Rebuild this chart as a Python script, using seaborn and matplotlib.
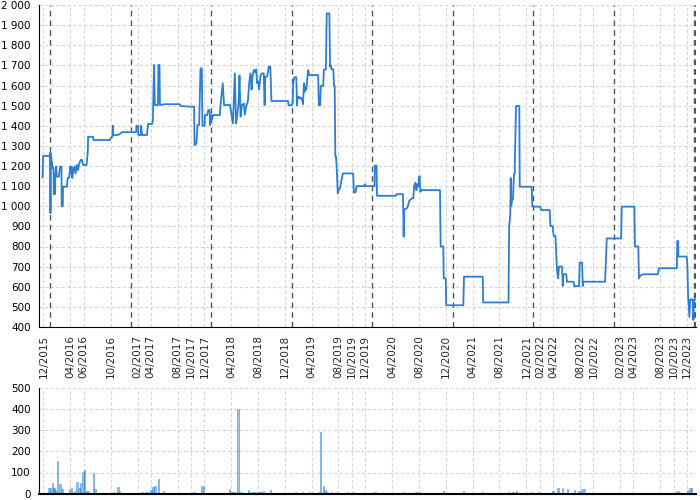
import pandas as pd
import numpy as np
import matplotlib
matplotlib.use("Agg")
import matplotlib.pyplot as plt
from matplotlib.ticker import FuncFormatter
import seaborn as sns

# price series
price_dates = [
    "2015-11-27", "2015-11-30", "2015-12-31", "2016-01-01", "2016-01-02", "2016-01-03",
    "2016-01-12", "2016-01-16", "2016-01-17", "2016-01-23", "2016-01-24", "2016-01-28",
    "2016-01-31", "2016-02-09", "2016-02-15", "2016-02-21", "2016-02-22", "2016-02-27",
    "2016-02-28", "2016-03-17", "2016-03-20", "2016-03-26", "2016-03-29", "2016-04-01",
    "2016-04-04", "2016-04-07", "2016-04-10", "2016-04-13", "2016-04-16", "2016-04-21",
    "2016-04-25", "2016-05-01", "2016-05-06", "2016-05-12", "2016-05-18", "2016-05-24",
    "2016-05-29", "2016-06-14", "2016-06-20", "2016-06-21", "2016-07-14", "2016-07-15",
    "2016-09-28", "2016-10-02", "2016-10-09", "2016-10-11", "2016-10-13", "2016-11-02",
    "2016-11-12", "2016-11-21", "2017-01-25", "2017-01-26", "2017-02-03", "2017-02-04",
    "2017-02-15", "2017-02-16", "2017-02-21", "2017-03-15", "2017-03-20", "2017-04-07",
    "2017-04-11", "2017-04-16", "2017-04-20", "2017-05-04", "2017-05-06", "2017-05-11",
    "2017-05-13", "2017-06-04", "2017-08-11", "2017-08-16", "2017-09-26", "2017-10-15",
    "2017-10-17", "2017-10-25", "2017-10-31", "2017-11-07", "2017-11-13", "2017-11-19",
    "2017-11-22", "2017-12-02", "2017-12-03", "2017-12-13", "2017-12-18", "2017-12-24",
    "2017-12-27", "2017-12-30", "2018-01-04", "2018-01-09", "2018-02-09", "2018-02-12",
    "2018-02-22", "2018-02-28", "2018-03-27", "2018-04-09", "2018-04-18", "2018-04-23",
    "2018-04-28", "2018-05-05", "2018-05-09", "2018-05-14", "2018-05-20", "2018-05-29",
    "2018-06-02", "2018-06-09", "2018-06-16", "2018-06-22", "2018-06-28", "2018-07-03",
    "2018-07-07", "2018-07-13", "2018-07-20", "2018-07-24", "2018-07-28", "2018-08-02",
    "2018-08-06", "2018-08-12", "2018-08-18", "2018-08-27", "2018-08-31", "2018-09-03",
    "2018-09-12", "2018-09-19", "2018-09-26", "2018-10-01", "2018-12-15", "2018-12-18",
    "2019-01-01", "2019-01-05", "2019-01-08", "2019-01-13", "2019-01-22", "2019-01-25",
    "2019-01-28", "2019-02-02", "2019-02-06", "2019-02-11", "2019-02-17", "2019-02-21",
    "2019-02-26", "2019-03-02", "2019-03-05", "2019-03-08", "2019-03-17", "2019-03-21",
    "2019-05-01", "2019-05-04", "2019-05-10", "2019-05-13", "2019-05-24", "2019-05-27",
    "2019-06-05", "2019-06-09", "2019-06-21", "2019-06-24", "2019-06-27", "2019-07-01",
    "2019-07-09", "2019-07-12", "2019-07-15", "2019-07-18", "2019-07-21", "2019-07-24",
    "2019-07-29", "2019-08-02", "2019-08-08", "2019-08-21", "2019-10-07", "2019-10-10",
    "2019-10-18", "2019-10-22", "2019-11-26", "2019-11-29", "2019-12-02", "2020-01-12",
    "2020-01-13", "2020-01-21", "2020-01-23", "2020-04-18", "2020-04-21", "2020-05-20",
    "2020-05-23", "2020-05-26", "2020-06-07", "2020-06-11", "2020-06-18", "2020-07-01",
    "2020-07-06", "2020-07-09", "2020-07-15", "2020-07-20", "2020-07-23", "2020-07-28",
    "2020-07-30", "2020-08-03", "2020-08-07", "2020-08-12", "2020-11-04", "2020-11-07",
    "2020-11-19", "2020-11-21", "2020-11-30", "2020-12-02", "2021-02-18", "2021-02-21",
    "2021-05-17", "2021-05-19", "2021-09-11", "2021-09-14", "2021-09-19", "2021-09-21",
    "2021-09-23", "2021-09-28", "2021-10-01", "2021-10-06", "2021-10-09", "2021-10-15",
    "2021-10-30", "2021-11-01", "2021-12-25", "2021-12-28", "2022-02-02", "2022-02-06",
    "2022-03-17", "2022-03-20", "2022-03-30", "2022-04-04", "2022-04-12", "2022-04-19",
    "2022-04-24", "2022-04-28", "2022-05-12", "2022-05-15", "2022-05-18", "2022-05-31",
    "2022-06-03", "2022-07-03", "2022-07-06", "2022-07-28", "2022-07-31", "2022-08-11",
    "2022-08-14", "2022-08-17", "2022-11-23", "2022-11-26", "2022-12-01", "2023-02-04",
    "2023-02-07", "2023-04-05", "2023-04-08", "2023-04-23", "2023-04-26", "2023-05-02",
    "2023-05-14", "2023-07-21", "2023-07-26", "2023-10-15", "2023-10-17", "2023-10-21",
    "2023-10-22", "2023-11-29", "2023-12-02", "2023-12-05", "2023-12-11", "2023-12-15",
    "2023-12-26", "2023-12-29", "2024-01-02", "2024-01-07",
]
price_values = [
    1142, 1250, 1250, 1265, 966, 1265,
    1188, 1188, 1060, 1060, 1147, 1197,
    1147, 1147, 1197, 1197, 1000, 1000,
    1097, 1097, 1140, 1140, 1163, 1197,
    1163, 1197, 1140, 1163, 1180, 1197,
    1163, 1205, 1180, 1213, 1230, 1230,
    1205, 1205, 1280, 1345, 1345, 1329,
    1329, 1340, 1345, 1400, 1354, 1354,
    1360, 1368, 1368, 1399, 1399, 1354,
    1354, 1400, 1354, 1354, 1409, 1409,
    1425, 1702, 1503, 1503, 1702, 1702,
    1503, 1507, 1507, 1498, 1495, 1495,
    1304, 1310, 1404, 1404, 1685, 1685,
    1400, 1400, 1453, 1453, 1478, 1478,
    1404, 1453, 1430, 1453, 1453, 1503,
    1611, 1503, 1503, 1412, 1660, 1412,
    1445, 1515, 1650, 1445, 1503, 1510,
    1455, 1500, 1520, 1611, 1660, 1580,
    1645, 1677, 1665, 1680, 1611, 1620,
    1580, 1645, 1660, 1660, 1503, 1645,
    1645, 1694, 1694, 1523, 1523, 1502,
    1502, 1510, 1614, 1641, 1641, 1502,
    1544, 1544, 1535, 1540, 1530, 1507,
    1611, 1570, 1590, 1580, 1677, 1652,
    1652, 1502, 1502, 1598, 1598, 1680,
    1680, 1958, 1958, 1694, 1700, 1680,
    1680, 1598, 1598, 1247, 1247, 1197,
    1064, 1080, 1090, 1163, 1163, 1069,
    1069, 1100, 1100, 1110, 1100, 1100,
    1202, 1202, 1052, 1052, 1060, 1060,
    849, 985, 990, 1000, 1028, 1040,
    1040, 1097, 1117, 1080, 1110, 1097,
    1110, 1150, 1072, 1080, 1080, 800,
    800, 642, 642, 508, 508, 650,
    650, 522, 522, 898, 957, 1140,
    1000, 1035, 1035, 1160, 1160, 1498,
    1498, 1097, 1097, 998, 998, 981,
    981, 902, 902, 852, 852, 683,
    642, 700, 700, 604, 662, 662,
    625, 625, 603, 603, 720, 720,
    603, 625, 625, 700, 840, 840,
    998, 998, 800, 800, 642, 655,
    662, 662, 692, 692, 827, 827,
    750, 750, 700, 558, 450, 537,
    537, 435, 537, 537,
]

# traded volume
volume_dates = [
    "2015-12-26", "2016-01-02", "2016-01-11", "2016-01-16", "2016-01-21", "2016-01-26",
    "2016-02-02", "2016-02-14", "2016-02-23", "2016-03-28", "2016-04-08", "2016-04-20",
    "2016-05-01", "2016-05-10", "2016-05-17", "2016-05-29", "2016-06-04", "2016-06-13",
    "2016-06-20", "2016-07-15", "2016-07-22", "2016-10-15", "2016-11-04", "2016-11-11",
    "2017-02-04", "2017-02-11", "2017-02-20", "2017-03-10", "2017-03-18", "2017-04-03",
    "2017-04-12", "2017-04-21", "2017-05-05", "2017-05-12", "2017-05-28", "2017-08-20",
    "2017-10-14", "2017-10-19", "2017-11-19", "2017-11-28", "2018-02-10", "2018-03-25",
    "2018-04-05", "2018-04-14", "2018-05-02", "2018-05-16", "2018-06-19", "2018-06-23",
    "2018-07-09", "2018-07-18", "2018-08-05", "2018-08-14", "2018-08-27", "2018-09-15",
    "2018-09-26", "2018-12-05", "2019-01-19", "2019-02-03", "2019-02-19", "2019-02-28",
    "2019-03-23", "2019-04-01", "2019-05-02", "2019-05-13", "2019-05-25", "2019-06-01",
    "2019-06-10", "2019-06-30", "2019-07-27", "2019-08-03", "2019-09-10", "2019-10-07",
    "2019-10-21", "2019-12-03", "2020-01-14", "2020-05-22", "2020-07-18", "2020-08-03",
    "2020-11-20", "2020-12-01", "2021-02-19", "2021-05-16", "2021-09-12", "2021-09-21",
    "2021-10-02", "2021-10-18", "2021-11-07", "2021-12-24", "2022-01-24", "2022-02-28",
    "2022-03-18", "2022-04-01", "2022-04-10", "2022-04-23", "2022-05-02", "2022-05-13",
    "2022-05-22", "2022-06-06", "2022-06-18", "2022-07-08", "2022-07-28", "2022-08-08",
    "2022-08-19", "2022-11-24", "2023-02-05", "2023-05-02", "2023-07-20", "2023-10-14",
    "2023-10-23", "2023-12-03", "2023-12-14", "2023-12-21",
]
volume_values = [
    25, 25, 52, 28, 25, 17,
    156, 44, 24, 20, 25, 14,
    57, 28, 49, 102, 111, 13,
    13, 99, 24, 8, 30, 11,
    3, 3, 8, 8, 8, 17,
    30, 35, 69, 5, 14, 2,
    8, 3, 36, 36, 2, 24,
    8, 8, 401, 8, 16, 8,
    9, 9, 8, 8, 13, 5,
    19, 5, 6, 3, 8, 3,
    8, 5, 8, 289, 36, 17,
    6, 8, 8, 3, 9, 8,
    3, 3, 6, 8, 6, 9,
    13, 5, 14, 8, 8, 5,
    6, 11, 5, 8, 6, 5,
    5, 11, 5, 27, 5, 28,
    5, 20, 3, 17, 14, 20,
    20, 3, 2, 3, 3, 11,
    11, 16, 25, 25,
]

tick_labels = [
    "12/2015", "04/2016", "06/2016", "10/2016", "02/2017", "04/2017", "08/2017",
    "10/2017", "12/2017", "04/2018", "08/2018", "12/2018", "04/2019", "08/2019",
    "10/2019", "12/2019", "04/2020", "08/2020", "12/2020", "04/2021", "08/2021",
    "12/2021", "02/2022", "04/2022", "08/2022", "10/2022", "02/2023", "04/2023",
    "08/2023", "10/2023", "12/2023",
]
year_marks = ["2016-01-01", "2017-01-01", "2018-01-01", "2019-01-01", "2020-01-01",
              "2021-01-01", "2022-01-01", "2023-01-01", "2024-01-01"]

price = pd.DataFrame({"date": pd.to_datetime(price_dates), "price": price_values})
volume = pd.DataFrame({"date": pd.to_datetime(volume_dates), "volume": volume_values})
ticks = pd.to_datetime(tick_labels, format="%m/%Y")
marks = pd.to_datetime(year_marks)

sns.set_style("white")
plt.rcParams["font.family"] = ["DejaVu Sans"]
plt.rcParams["font.size"] = 7

blue = "#2a7fd4"
grid_kw = dict(color="#d6d6d6", linestyle=(0, (3, 2)), linewidth=0.8)
thousands = FuncFormatter(lambda v, p: f"{v:,.0f}".replace(",", " "))
xlim = (pd.Timestamp("2015-11-11"), pd.Timestamp("2024-01-10"))

fig = plt.figure(figsize=(7, 5), dpi=100)
ax = fig.add_axes([0.0557, 0.346, 0.9386, 0.644])
ax2 = fig.add_axes([0.0557, 0.0126, 0.9386, 0.212])

# price panel
sns.lineplot(data=price, x="date", y="price", ax=ax, color=blue, linewidth=1.3,
             estimator=None, sort=False)
for d in marks:
    ax.axvline(d, color="#555555", linestyle=(0, (4, 3)), linewidth=1, zorder=1)
ax.axvline(price["date"].iloc[-1], color="#555555", linestyle=(0, (4, 3)), linewidth=1, zorder=1)
ax.set_ylim(400, 2000)
ax.set_yticks(np.arange(400, 2001, 100))
ax.yaxis.set_major_formatter(thousands)
ax.set_xlim(*xlim)
ax.set_xticks(ticks)
ax.set_xticklabels(tick_labels, rotation=90)
ax.grid(True, **grid_kw)
ax.set_axisbelow(True)
ax.set_xlabel("")
ax.set_ylabel("")

# volume panel
ax2.bar(volume["date"], volume["volume"], width=6, color=blue, alpha=0.5,
        edgecolor=blue, linewidth=0.6)
ax2.set_ylim(0, 500)
ax2.set_yticks(np.arange(0, 501, 100))
ax2.set_xlim(*xlim)
ax2.set_xticks(ticks)
ax2.tick_params(axis="x", length=0, labelbottom=False)
ax2.grid(True, **grid_kw)
ax2.set_axisbelow(True)

for a in (ax, ax2):
    sns.despine(ax=a)
    a.spines["left"].set_color("black")
    a.spines["bottom"].set_color("black")
    a.tick_params(axis="y", length=4, width=0.8, pad=2, colors="black", labelsize=7.5)
ax.tick_params(axis="x", length=4, width=0.8, pad=2, labelsize=7.5)
ax2.spines["bottom"].set_linewidth(1.5)

fig.savefig("out.png", dpi=100)
